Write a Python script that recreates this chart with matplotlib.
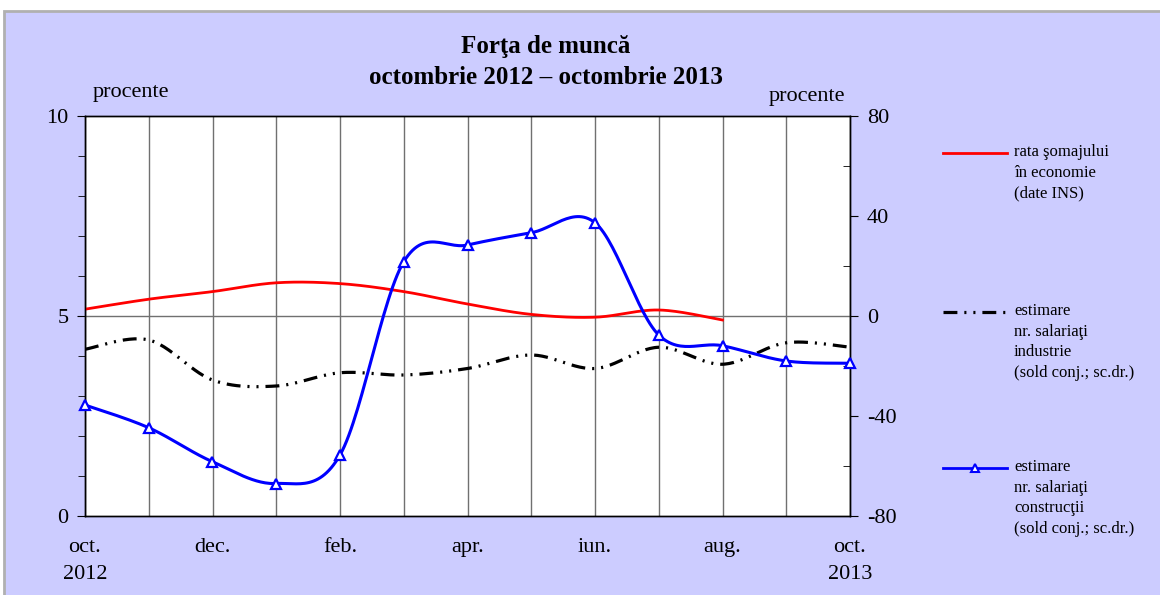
import numpy as np
import matplotlib
matplotlib.use("Agg")
import matplotlib.pyplot as plt
from matplotlib.ticker import MultipleLocator, FixedLocator
from matplotlib.lines import Line2D
from matplotlib.patches import Rectangle

# ---------------- data ----------------
months = ["oct.", "nov.", "dec.", "ian.", "feb.", "mar.", "apr.", "mai", "iun.", "iul.", "aug.", "sep.", "oct."]
tick_labels = ["oct.\n2012", "", "dec.", "", "feb.", "", "apr.", "", "iun.", "", "aug.", "", "oct.\n2013"]
rata_somaj = [5.17, 5.42, 5.61, 5.83, 5.81, 5.61, 5.30, 5.04, 4.97, 5.15, 4.90]          # left axis, oct-aug
industrie = [-13.3, -9.6, -25.6, -28.0, -22.7, -23.6, -21.0, -15.6, -21.0, -12.5, -19.3, -10.7, -12.5]  # right axis
constructii = [-35.6, -44.7, -58.3, -67.0, -55.6, 21.7, 28.4, 33.3, 37.3, -7.6, -11.9, -18.0, -18.9]   # right axis

label_red = "rata şomajului\nîn economie\n(date INS)"
label_black = "estimare\nnr. salariaţi\nindustrie\n(sold conj.; sc.dr.)"
label_blue = "estimare\nnr. salariaţi\nconstrucţii\n(sold conj.; sc.dr.)"

# ---------------- helpers ----------------
def smooth(x, y, n=30):
    """Catmull-Rom style Bezier smoothing (like spreadsheet 'smoothed line')."""
    x = np.asarray(x, float); y = np.asarray(y, float)
    px = np.concatenate([[x[0]], x, [x[-1]]])
    py = np.concatenate([[y[0]], y, [y[-1]]])
    xs, ys = [], []
    t = np.linspace(0, 1, n)
    for i in range(1, len(px) - 2):
        p0 = np.array([px[i - 1], py[i - 1]]); p1 = np.array([px[i], py[i]])
        p2 = np.array([px[i + 1], py[i + 1]]); p3 = np.array([px[i + 2], py[i + 2]])
        c1 = p1 + (p2 - p0) / 6.0
        c2 = p2 - (p3 - p1) / 6.0
        b = ((1 - t) ** 3)[:, None] * p1 + (3 * (1 - t) ** 2 * t)[:, None] * c1 \
            + (3 * (1 - t) * t ** 2)[:, None] * c2 + (t ** 3)[:, None] * p2
        xs.append(b[:, 0]); ys.append(b[:, 1])
    return np.concatenate(xs), np.concatenate(ys)

plt.rcParams['font.family'] = ['Liberation Serif', 'DejaVu Serif']
plt.rcParams['lines.scale_dashes'] = False

BG = "#CCCCFF"
fig = plt.figure(figsize=(11.6, 5.95), dpi=100)
fig.patch.set_facecolor("white")
fig.add_artist(Rectangle((4 / 1160, -0.1), 1.2, 1.1 - 11 / 595, transform=fig.transFigure,
                         facecolor=BG, edgecolor="#B0B0B0", linewidth=2, zorder=-10))

ax = fig.add_axes([85 / 1160, 1 - 516 / 595, 765 / 1160, 400 / 595])
ax.set_facecolor("white")
ax2 = ax.twinx()

x_all = np.arange(len(months))

# grid lines
for xi in x_all:
    ax.axvline(xi, color="#707070", lw=1, zorder=1)
ax.axhline(5, color="#707070", lw=1, zorder=1)

# red
xr, yr = smooth(x_all[:len(rata_somaj)], rata_somaj)
ax.plot(xr, yr, color="#FF0000", lw=2, zorder=3)

# black dash-dot-dot
xb, yb = smooth(x_all, industrie)
ax2.plot(xb, yb, color="black", lw=2.3, linestyle=(0, (10, 5, 1.5, 5, 1.5, 5)), zorder=3)

# blue with triangles
xc, yc = smooth(x_all, constructii)
ax2.plot(xc, yc, color="#0000FF", lw=2.2, zorder=4)
ax2.plot(x_all, constructii, linestyle="none", marker="^", markersize=7,
         markerfacecolor="white", markeredgecolor="#0000FF", markeredgewidth=1.6, zorder=5,
         clip_on=False)

ax.set_xlim(0, 12)
ax.set_ylim(0, 10)
ax2.set_ylim(-80, 80)

ax.set_xticks(x_all)
ax.set_xticklabels(tick_labels, fontsize=16, linespacing=1.55)
ax.tick_params(axis='x', length=0, pad=16)
ax.set_yticks([0, 5, 10])
ax.yaxis.set_minor_locator(MultipleLocator(1))
ax.tick_params(axis='y', which='both', direction='out', labelsize=16, pad=6)
ax.tick_params(axis='y', which='major', length=6)
ax.tick_params(axis='y', which='minor', length=5)

ax2.set_yticks([-80, -40, 0, 40, 80])
ax2.set_yticklabels(["-80", "-40", "0", "40", "80"])
ax2.yaxis.set_minor_locator(FixedLocator([-60, -20, 20, 60]))
ax2.tick_params(axis='y', which='major', direction='out', length=6, labelsize=16, pad=6)
ax2.tick_params(axis='y', which='minor', direction='in', length=5)

for a in (ax, ax2):
    for s in a.spines.values():
        s.set_color("black")
        s.set_linewidth(1)

# titles & axis captions
fig.text(546 / 1160, 1 - 47 / 595, "Forţa de muncă", ha="center", va="center",
         fontsize=18, fontweight="bold")
fig.text(546 / 1160, 1 - 78 / 595, "octombrie 2012 – octombrie 2013", ha="center", va="center",
         fontsize=18, fontweight="bold")
fig.text(93 / 1160, 1 - 92 / 595, "procente", ha="left", va="center", fontsize=16)
fig.text(845 / 1160, 1 - 96 / 595, "procente", ha="right", va="center", fontsize=16)

# legend (manual layout)
def legend_entry(y_px, label, **kw):
    yf = 1 - y_px / 595
    fig.add_artist(Line2D([943 / 1160, 1007 / 1160], [yf, yf], transform=fig.transFigure, **kw))
    fig.text(1014 / 1160, yf + 9 / 595, label, ha="left", va="top", fontsize=12, linespacing=1.38)

legend_entry(153, label_red, color="#FF0000", lw=2)
legend_entry(312, label_black, color="black", lw=2.3, linestyle=(0, (10, 5, 1.5, 5, 1.5, 5)))
legend_entry(468, label_blue, color="#0000FF", lw=2)
fig.add_artist(Line2D([975 / 1160], [1 - 468 / 595], transform=fig.transFigure, marker="^",
                      markersize=6, markerfacecolor="white", markeredgecolor="#0000FF",
                      markeredgewidth=1.5, linestyle="none"))

fig.savefig("out.png", dpi=100, facecolor=fig.get_facecolor())
